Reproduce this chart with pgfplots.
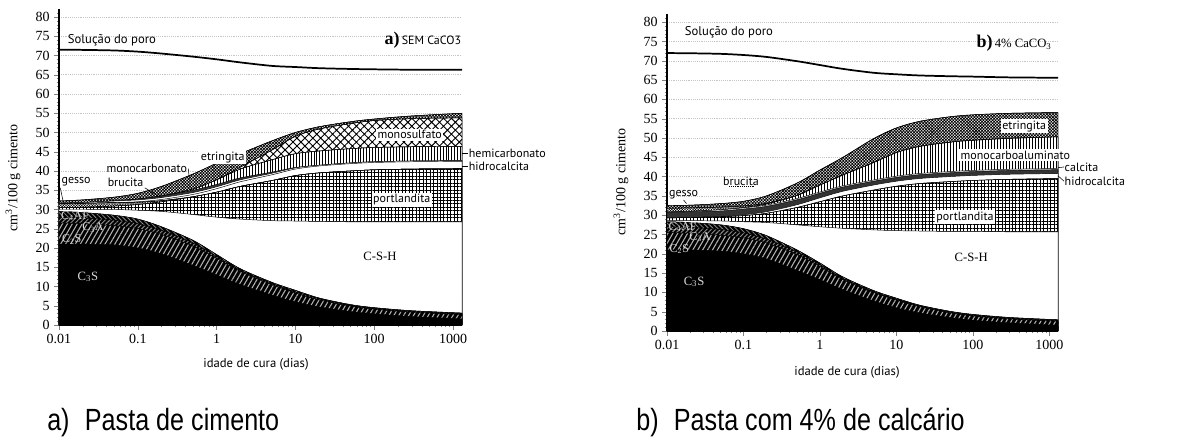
\documentclass[border=0pt]{standalone}
\usepackage{fontspec}
\setmainfont{Liberation Serif}
\newfontfamily\lsans{PT Sans}
\newfontfamily\arialn[FakeStretch=0.82]{Liberation Sans}
\usepackage{pgfplots}
\pgfplotsset{compat=1.18}
\usepackage{pgfplotstable}
\usetikzlibrary{patterns.meta}

\pgfplotstableread{
x c3s c2s c3a c4af csh port gesso hidro bruc monoc hemic monos etrin pore
0.01 21 26.5 28 29.5 30 30.5 31.5 31.5 31.5 31.5 31.5 31.5 32.2 71.5
0.02 21 26.3 27.8 29.2 30 30.6 31.6 31.6 31.8 31.8 31.8 31.8 32.5 71.45
0.05 20.8 25.8 27.2 28.5 30 30.9 31.8 31.8 32.2 32.2 32.2 32.2 33.2 71.3
0.1 20 25 26.3 27.5 29.8 31.3 31.9 32.0 32.5 32.7 32.7 32.7 34.2 71.0
0.2 18.5 23.5 24.6 25.5 29.5 32 32.3 32.6 33.1 33.5 33.5 33.5 36 70.5
0.5 15.5 20.5 21.3 22 28.7 33.3 33.3 33.9 34.4 35.0 35.3 35.3 39.2 69.7
1 13 17.3 17.8 18.3 28 34.5 34.5 35.4 35.9 36.5 37.7 37.7 42 69.0
2 10.5 13.9 14.2 14.6 27.5 36 36 37.2 37.7 38.2 40.5 41.0 44.5 68.2
5 7.8 10.5 10.8 11.1 27.1 37.5 37.5 39.0 39.4 39.7 42.9 45.4 47.8 67.3
10 6.0 8.3 8.6 9.0 27 38.8 38.8 40.5 40.8 40.9 44.5 49.0 50 67.0
20 4.7 6.5 6.8 7.0 26.9 39.5 39.5 41.3 41.5 41.5 45.2 50.9 51.5 66.7
50 3.5 4.9 5.1 5.3 26.8 40 40 41.9 42.1 42.1 45.8 52.3 52.8 66.5
100 2.9 4.1 4.3 4.5 26.8 40.3 40.3 42.2 42.4 42.4 46.1 53.1 53.5 66.4
300 2.2 3.3 3.5 3.7 26.8 40.5 40.5 42.4 42.6 42.6 46.3 53.6 54.3 66.3
1300 1.6 2.7 2.9 3.1 26.8 40.6 40.6 42.5 42.7 42.7 46.4 53.8 55 66.3
}\tabA

\pgfplotstableread{
x c3s c2s c3a c4af csh port hidro calc bruc monoc gesso etrin pore
0.01 21 25.5 27 28.3 28.6 29.3 29.3 30.8 30.8 30.8 31.8 32.5 72.0
0.02 21 25.3 26.8 28.1 28.6 29.4 29.4 30.9 31.0 31.0 31.9 32.6 71.95
0.05 20.7 24.8 26.3 27.5 28.5 29.6 29.6 31.1 31.4 31.4 32.1 33.0 71.8
0.1 20 24.1 25.4 26.5 28.3 29.9 30.1 31.6 31.9 32.0 32.4 33.6 71.5
0.2 18.7 22.8 23.8 24.7 28.1 30.5 30.9 32.3 32.6 32.9 33.1 35.0 71.0
0.5 15.7 19.8 20.5 21.0 27.5 32 32.7 34.0 34.3 35.1 35.1 38.3 69.9
1 13.3 16.7 17.2 17.6 27 33.5 34.5 35.7 36.0 37.8 37.8 41.7 68.9
2 10.7 13.3 13.6 14.0 26.6 35 36.2 37.3 37.6 40.4 40.4 45.0 67.9
5 7.8 10.0 10.2 10.5 26.2 36.5 37.8 38.8 39.1 43.6 43.6 49.8 66.9
10 6.0 8.0 8.2 8.5 26 37.5 38.8 39.8 40.1 46.2 46.2 52.6 66.5
20 4.7 6.3 6.5 6.7 25.9 38.2 39.5 40.5 40.8 47.8 47.8 54.3 66.2
50 3.5 4.7 4.9 5.1 25.8 38.7 40.0 41.0 41.3 48.9 48.9 55.5 66.0
100 2.8 3.9 4.1 4.3 25.8 39 40.3 41.3 41.6 49.4 49.4 56.0 65.9
300 2.1 3.1 3.3 3.5 25.7 39.3 40.6 41.6 41.9 49.9 49.9 56.4 65.7
1300 1.5 2.5 2.7 2.9 25.7 39.5 40.8 41.8 42.1 50.3 50.3 56.6 65.6
}\tabB

\tikzset{
  lay/.style={draw=black, line width=0.35pt},
  etrS/.style={lay, preaction={fill=white}, pattern={Hatch[angle=45,distance=1.6pt,line width=0.55pt]}, pattern color=black},
  monosS/.style={lay, preaction={fill=white}, pattern={Hatch[angle=45,distance=4.2pt,line width=0.7pt]}, pattern color=black},
  vertS/.style={lay, preaction={fill=white}, pattern={Lines[angle=90,distance=2.2pt,line width=0.55pt]}, pattern color=black},
  gesS/.style={lay, preaction={fill=white}, pattern={Hatch[angle=45,distance=1.4pt,line width=0.3pt]}, pattern color=black},
  portS/.style={lay, preaction={fill=white}, pattern={Hatch[angle=0,distance=2.6pt,line width=0.45pt]}, pattern color=black},
  whiteS/.style={lay, fill=white},
  darkS/.style={lay, fill=black!80},
  cfourS/.style={lay, preaction={fill=black}, pattern={Lines[angle=-45,distance=2.4pt,line width=0.6pt]}, pattern color=black!45},
  cthreeS/.style={lay, preaction={fill=black}, pattern={Lines[angle=45,distance=2.4pt,line width=0.7pt]}, pattern color=black!45},
  ctwoS/.style={lay, preaction={fill=black}, pattern={Lines[angle=60,distance=3.2pt,line width=0.8pt]}, pattern color=black!30},
  cthrsS/.style={lay, fill=black},
  lab/.style={font=\lsans\fontsize{9}{10}\selectfont, inner sep=0.8pt},
  boxlab/.style={lab, fill=white, inner sep=1.2pt},
  clab/.style={font=\fontsize{9}{10}\selectfont, text=white!85!black},
}

\begin{document}
\begin{tikzpicture}
\useasboundingbox (0,0) rectangle (884.25pt,332.25pt);

% ---------------- panel a ----------------
\begin{axis}[
    at={(44.25pt,88.5pt)}, anchor=south west, width=302.25pt, height=236.8pt,
    scale only axis, xmode=log, xmin=0.01, xmax=1300, ymin=0, ymax=82,
    axis x line*=bottom, axis y line*=left,
    axis line style={line width=0.8pt},
    xtick={0.01,0.1,1,10,100,1000},
    xticklabels={0.01,0.1,1,10,100,1000},
    minor xtick={0.02,0.03,0.04,0.05,0.06,0.07,0.08,0.09,0.2,0.3,0.4,0.5,0.6,0.7,0.8,0.9,2,3,4,5,6,7,8,9,20,30,40,50,60,70,80,90,200,300,400,500,600,700,800,900},
    ytick={0,5,10,15,20,25,30,35,40,45,50,55,60,65,70,75,80},
    yticklabels={0,5,10,15,20,25,30,35,40,45,50,55,60,65,70,75,80},
    minor ytick={1,2,...,81},
    tick align=outside, major tick length=3.5pt, minor tick length=1.8pt,
    ymajorgrids, major grid style={gray!45, line width=0.4pt, densely dotted},
    tick label style={font=\rmfamily\fontsize{10.5}{10.5}\selectfont},
    clip=false,
]
\addplot[etrS, smooth] table[x=x,y=etrin]{\tabA} \closedcycle;
\addplot[monosS, smooth] table[x=x,y=monos]{\tabA} \closedcycle;
\addplot[vertS, smooth] table[x=x,y=hemic]{\tabA} \closedcycle;
\addplot[darkS, smooth] table[x=x,y=monoc]{\tabA} \closedcycle;
\addplot[whiteS, smooth] table[x=x,y=bruc]{\tabA} \closedcycle;
\addplot[whiteS, smooth] table[x=x,y=hidro]{\tabA} \closedcycle;
\addplot[gesS, smooth] table[x=x,y=gesso]{\tabA} \closedcycle;
\addplot[portS, smooth] table[x=x,y=port]{\tabA} \closedcycle;
\addplot[whiteS, smooth] table[x=x,y=csh]{\tabA} \closedcycle;
\addplot[cfourS, smooth] table[x=x,y=c4af]{\tabA} \closedcycle;
\addplot[cthreeS, smooth] table[x=x,y=c3a]{\tabA} \closedcycle;
\addplot[ctwoS, smooth] table[x=x,y=c2s]{\tabA} \closedcycle;
\addplot[cthrsS, smooth] table[x=x,y=c3s]{\tabA} \closedcycle;
\addplot[black, line width=1.3pt, smooth] table[x=x,y=pore]{\tabA};

\node[lab, anchor=west, font=\lsans\fontsize{9.5}{10}\selectfont] at (axis cs:0.0125,74) {Solução do poro};
\node[anchor=east, inner sep=0pt] at (axis cs:1280,74) {{\fontsize{13.5}{13}\selectfont\bfseries a)}\,{\lsans\fontsize{9}{10}\selectfont SEM CaCO3}};
\node[boxlab] at (axis cs:282,49.4) {monosulfato};
\node[boxlab] at (axis cs:224,32.5) {portlandita};
\node[boxlab] at (axis cs:1.2,43.6) {etringita};
\draw[line width=0.4pt] (axis cs:1300,44.7) -- (axis cs:1560,44.7) node[lab, anchor=west, inner sep=0.3pt] {hemicarbonato};
\draw[line width=0.4pt] (axis cs:1300,41.3) -- (axis cs:1560,41.3) node[lab, anchor=west, inner sep=0.3pt] {hidrocalcita};
\node[lab] (mc) at (axis cs:0.13,40.6) {monocarbonato};
\draw[line width=0.4pt] (mc.east) -- (axis cs:0.45,38.0);
\node[lab] (br) at (axis cs:0.07,37.1) {brucita};
\draw[line width=0.4pt] (br.south east) -- (axis cs:0.2,33.0);
\node[lab] (ge) at (axis cs:0.0165,37.1) {gesso};
\draw[line width=0.4pt] (ge.south west) -- (axis cs:0.0115,31.3);
\node[font=\fontsize{9.5}{10}\selectfont] at (axis cs:118,17.7) {C-S-H};
\node[clab] at (axis cs:0.016,28.3) {C\textsubscript{4}AF};
\node[clab] at (axis cs:0.027,25.3) {C\textsubscript{3}A};
\node[clab] at (axis cs:0.0145,22.2) {C\textsubscript{2}S};
\node[clab, font=\fontsize{9.5}{10}\selectfont] at (axis cs:0.0233,12.5) {C\textsubscript{3}S};
\end{axis}

% ---------------- panel b ----------------
\begin{axis}[
    at={(500.25pt,84pt)}, anchor=south west, width=293.25pt, height=237.4pt,
    scale only axis, xmode=log, xmin=0.01, xmax=1300, ymin=0, ymax=82,
    axis x line*=bottom, axis y line*=left,
    axis line style={line width=0.8pt},
    xtick={0.01,0.1,1,10,100,1000},
    xticklabels={0.01,0.1,1,10,100,1000},
    minor xtick={0.02,0.03,0.04,0.05,0.06,0.07,0.08,0.09,0.2,0.3,0.4,0.5,0.6,0.7,0.8,0.9,2,3,4,5,6,7,8,9,20,30,40,50,60,70,80,90,200,300,400,500,600,700,800,900},
    ytick={0,5,10,15,20,25,30,35,40,45,50,55,60,65,70,75,80},
    yticklabels={0,5,10,15,20,25,30,35,40,45,50,55,60,65,70,75,80},
    minor ytick={1,2,...,81},
    tick align=outside, major tick length=3.5pt, minor tick length=1.8pt,
    ymajorgrids, major grid style={gray!45, line width=0.4pt, densely dotted},
    tick label style={font=\rmfamily\fontsize{10.5}{10.5}\selectfont},
    clip=false,
]
\addplot[etrS, smooth] table[x=x,y=etrin]{\tabB} \closedcycle;
\addplot[gesS, smooth] table[x=x,y=gesso]{\tabB} \closedcycle;
\addplot[vertS, smooth] table[x=x,y=monoc]{\tabB} \closedcycle;
\addplot[whiteS, smooth] table[x=x,y=bruc]{\tabB} \closedcycle;
\addplot[darkS, smooth] table[x=x,y=calc]{\tabB} \closedcycle;
\addplot[whiteS, smooth] table[x=x,y=hidro]{\tabB} \closedcycle;
\addplot[portS, smooth] table[x=x,y=port]{\tabB} \closedcycle;
\addplot[whiteS, smooth] table[x=x,y=csh]{\tabB} \closedcycle;
\addplot[cfourS, smooth] table[x=x,y=c4af]{\tabB} \closedcycle;
\addplot[cthreeS, smooth] table[x=x,y=c3a]{\tabB} \closedcycle;
\addplot[ctwoS, smooth] table[x=x,y=c2s]{\tabB} \closedcycle;
\addplot[cthrsS, smooth] table[x=x,y=c3s]{\tabB} \closedcycle;
\addplot[black, line width=1.3pt, smooth] table[x=x,y=pore]{\tabB};

\node[lab, anchor=west, font=\lsans\fontsize{9.5}{10}\selectfont] at (axis cs:0.0165,77.5) {Solução do poro};
\node[anchor=east, inner sep=0pt] at (axis cs:1080,74.6) {{\fontsize{13.5}{13}\selectfont\bfseries b)}\,{\fontsize{9.5}{10}\selectfont 4\% CaCO\textsubscript{3}}};
\node[boxlab] at (axis cs:470,53.1) {etringita};
\node[boxlab] at (axis cs:360,45.6) {monocarboaluminato};
\node[boxlab] at (axis cs:79,29.5) {portlandita};
\draw[line width=0.4pt] (axis cs:1300,42.3) -- (axis cs:1560,42.5) node[lab, anchor=west, inner sep=0.3pt] {calcita};
\draw[line width=0.4pt] (axis cs:1300,40.2) -- (axis cs:1560,38.8) node[lab, anchor=west, inner sep=0.3pt] {hidrocalcita};
\node[lab] at (axis cs:0.093,38.8) {brucita};
\draw[line width=0.4pt, densely dotted] (axis cs:0.065,37.4) -- (axis cs:0.14,37.4);
\node[lab] (gb) at (axis cs:0.0165,35.4) {gesso};
\draw[line width=0.4pt] (gb.south) -- (axis cs:0.018,33.0);
\node[font=\fontsize{9.5}{10}\selectfont] at (axis cs:95,19.2) {C-S-H};
\node[clab] at (axis cs:0.016,27.0) {C\textsubscript{4}AF};
\node[clab] at (axis cs:0.027,24.3) {C\textsubscript{3}A};
\node[clab] at (axis cs:0.0145,21.2) {C\textsubscript{2}S};
\node[clab, font=\fontsize{9.5}{10}\selectfont] at (axis cs:0.0226,12.7) {C\textsubscript{3}S};
\end{axis}

% axis titles
\node[rotate=90, font=\fontsize{10.5}{11}\selectfont] at (9.75pt,198.75pt) {cm\textsuperscript{3}/100 g cimento};
\node[rotate=90, font=\fontsize{10.5}{11}\selectfont] at (465.75pt,195.75pt) {cm\textsuperscript{3}/100 g cimento};
\node[font=\lsans\fontsize{9.5}{10}\selectfont] at (192pt,59.25pt) {idade de cura (dias)};
\node[font=\lsans\fontsize{9.5}{10}\selectfont] at (635.25pt,53.25pt) {idade de cura (dias)};

% captions
\node[anchor=base west, inner sep=0pt, font=\arialn\fontsize{23}{24}\selectfont] at (35.25pt,9.5pt) {a)\hspace{0.5em}Pasta de cimento};
\node[anchor=base west, inner sep=0pt, font=\arialn\fontsize{23}{24}\selectfont] at (477pt,9.5pt) {b)\hspace{0.5em}Pasta com 4\% de calcário};
\end{tikzpicture}
\end{document}
